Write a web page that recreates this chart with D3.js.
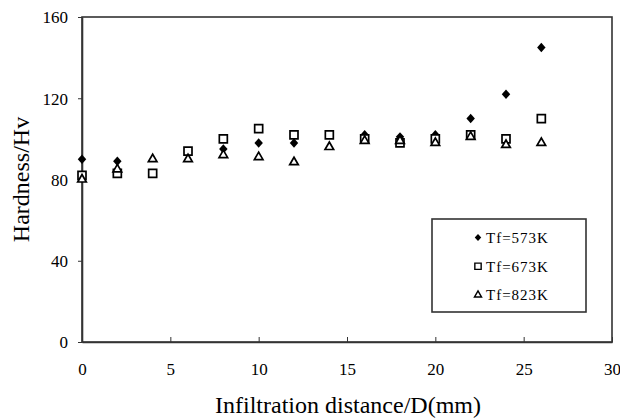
<!DOCTYPE html>
<html>
<head>
<meta charset="utf-8">
<script src="https://cdn.jsdelivr.net/npm/d3@7"></script>
<style>
  body { margin: 0; background: #fff; }
  text { font-family: "Liberation Serif", "Times New Roman", serif; fill: #000; }
</style>
</head>
<body>
<svg id="chart"></svg>
<script>
// [ --- data
var distance = [0, 2, 4, 6, 8, 10, 12, 14, 16, 18, 20, 22, 24, 26];
var hard573 = [90, 89, null, null, 95, 98, 98, null, 102, 101, 102, 110, 122, 145];
var hard673 = [82, 83, 83, 94, 100, 105, 102, 102, 100, 98, 100, 102, 100, 110];
var hard823 = [80, 85, 90, 90, 92, 91, 88.5, 96, 99, 99, 98, 101, 97, 98];
var seriesNames = ["Tf=573K", "Tf=673K", "Tf=823K"];
var xTicks = [0, 5, 10, 15, 20, 25, 30];
var yTicks = [0, 40, 80, 120, 160];
// data ---]

var width = 620;
var height = 420;
var plotLeft = 82, plotRight = 612, plotTop = 17, plotBottom = 342;
var axisColor = "#333";

var svg = d3.select("#chart")
    .attr("width", width)
    .attr("height", height);

var xScale = d3.scaleLinear()
                .domain([0, 30])
                .range([plotLeft, plotRight]);

var yScale = d3.scaleLinear()
                .domain([0, 160])
                .range([plotBottom, plotTop]);

// rotated-square diamond symbol
var diamond = {
  draw: function(context, size) {
    var r = Math.sqrt(size / 2);
    context.moveTo(0, -r);
    context.lineTo(r * 0.9, 0);
    context.lineTo(0, r);
    context.lineTo(-r * 0.9, 0);
    context.closePath();
  }
};

var series = [
  { name: seriesNames[0], values: hard573, type: diamond, size: 44, legendSize: 26, fill: "#000" },
  { name: seriesNames[1], values: hard673, type: d3.symbolSquare, size: 64, legendSize: 40, fill: "#fff" },
  { name: seriesNames[2], values: hard823, type: d3.symbolTriangle, size: 32, legendSize: 22, fill: "#fff" }
];

// frame
svg.append("rect")
    .attr("x", plotLeft)
    .attr("y", plotTop)
    .attr("width", plotRight - plotLeft)
    .attr("height", plotBottom - plotTop)
    .attr("fill", "none")
    .attr("stroke", axisColor)
    .attr("stroke-width", 1.6);

var xAxis = d3.axisBottom(xScale)
                .tickValues(xTicks)
                .tickSize(-5)
                .tickSizeOuter(0)
                .tickPadding(21);

var yAxis = d3.axisLeft(yScale)
                .tickValues(yTicks)
                .tickSize(4)
                .tickSizeOuter(0)
                .tickPadding(10);

var gx = svg.append("g")
      .attr("transform", "translate(0," + plotBottom + ")")
      .call(xAxis);

var gy = svg.append("g")
      .attr("transform", "translate(" + plotLeft + ",0)")
      .call(yAxis);

[gx, gy].forEach(function(g){
  g.select(".domain").attr("stroke", axisColor).attr("stroke-width", 1.6);
  g.selectAll(".tick line").attr("stroke", axisColor).attr("stroke-width", 1);
  g.selectAll(".tick text")
    .style("font-family", "'Liberation Serif', serif")
    .style("font-size", "17px")
    .attr("fill", "#000");
});
gy.selectAll(".tick text").attr("dy", "0.35em");

// points
series.forEach(function(s){
  var pts = distance.map(function(d, i){ return { x: d, y: s.values[i] }; })
                    .filter(function(p){ return p.y !== null; });
  svg.append("g")
    .selectAll("path")
    .data(pts)
    .enter()
    .append("path")
      .attr("transform", function(p){ return "translate(" + xScale(p.x) + "," + yScale(p.y) + ")"; })
      .attr("d", d3.symbol().type(s.type).size(s.size))
      .attr("fill", s.fill)
      .attr("stroke", "#000")
      .attr("stroke-width", s.fill === "#000" ? 0 : 1.7);
});

// legend
var legend = svg.append("g");
legend.append("rect")
    .attr("x", 432)
    .attr("y", 219)
    .attr("width", 154)
    .attr("height", 93)
    .attr("fill", "#fff")
    .attr("stroke", axisColor)
    .attr("stroke-width", 1.6);

var legendY = d3.scalePoint()
                .domain(seriesNames)
                .range([237.5, 295]);

series.forEach(function(s){
  legend.append("path")
      .attr("transform", "translate(478," + legendY(s.name) + ")")
      .attr("d", d3.symbol().type(s.type).size(s.legendSize))
      .attr("fill", s.fill)
      .attr("stroke", "#000")
      .attr("stroke-width", s.fill === "#000" ? 0 : 1.4);
  legend.append("text")
      .attr("x", 486)
      .attr("y", legendY(s.name))
      .attr("dy", "0.35em")
      .style("font-size", "15px")
      .style("letter-spacing", "1px")
      .text(s.name);
});

// axis titles
svg.append("text")
    .attr("x", (plotLeft + plotRight) / 2 + 1)
    .attr("y", 413)
    .style("text-anchor", "middle")
    .style("font-size", "24px")
    .text("Infiltration distance/D(mm)");

svg.append("text")
    .attr("transform", "rotate(-90)")
    .attr("x", -(plotTop + plotBottom) / 2)
    .attr("y", 29)
    .style("text-anchor", "middle")
    .style("font-size", "24px")
    .text("Hardness/Hv");
</script>
</body>
</html>
